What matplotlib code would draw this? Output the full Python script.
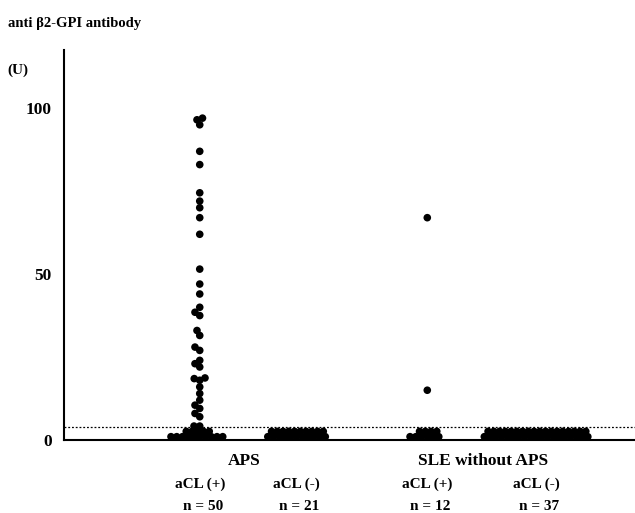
"""Anti beta2-GPI antibody levels: APS vs SLE without APS, split by aCL status."""
import numpy as np
import matplotlib

matplotlib.use("Agg")
import matplotlib.pyplot as plt

# values (U)
aps_pos = [97, 96.5, 95, 87, 83, 74.5, 72, 70, 67, 62, 51.5, 47, 44, 40,
           38.5, 37.5, 33, 31.5, 28, 27, 24, 23, 22, 18.7, 18.5, 18, 16, 14,
           12, 10.5, 9.5, 8, 7,
           4.2, 4.2,
           2.6, 2.6, 2.6, 2.6, 2.6,
           1.0, 1.0, 1.0, 1.0, 1.0, 1.0, 1.0, 1.0, 1.0, 1.0]
aps_neg = [2.6] * 10 + [1.0] * 11
sle_pos = [67, 15] + [2.6] * 4 + [1.0] * 6
sle_neg = [2.6] * 18 + [1.0] * 19

groups = [aps_pos, aps_neg, sle_pos, sle_neg]
centers = [2.0, 2.97, 4.28, 5.37]
acl_labels = ["aCL (+)", "aCL (-)", "aCL (+)", "aCL (-)"]
n_labels = ["n = 50", "n = 21", "n = 12", "n = 37"]
cutoff = 3.9

FONT = "Liberation Serif"


def swarm(ax, x0, vals, diam_px):
    """Simple beeswarm: returns x data positions for values around x0."""
    tr = ax.transData
    pts = tr.transform(np.column_stack([np.full(len(vals), x0), vals]))
    order = np.argsort(pts[:, 1], kind="stable")
    placed = []
    xs = np.zeros(len(vals))
    for i in order:
        y = pts[i, 1]
        best = None
        for k in range(0, 600):
            for sgn in ((1,) if k == 0 else (-1, 1)):
                dx = sgn * k * 0.25
                ok = all((px - (pts[i, 0] + dx)) ** 2 + (py - y) ** 2
                         >= diam_px ** 2 for px, py in placed)
                if ok:
                    best = dx
                    break
            if best is not None:
                break
        placed.append((pts[i, 0] + best, y))
        xs[i] = tr.inverted().transform((pts[i, 0] + best, y))[0]
    return xs


fig = plt.figure(figsize=(6.35, 5.13), dpi=100)
ax = fig.add_axes([0.1008, 0.1423, 0.899, 0.760])
ax.set_xlim(0.64, 6.36)
ax.set_ylim(0, 117.5)

for x0, vals in zip(centers, groups):
    xs = swarm(ax, x0, vals, 5.6)
    ax.scatter(xs, vals, s=30, color="black", edgecolors="none",
               zorder=3, clip_on=False)

ax.axhline(cutoff, color="black", lw=0.9, ls=(0, (1.5, 1.5)), zorder=2)

for side in ("top", "right"):
    ax.spines[side].set_visible(False)
ax.spines["left"].set_linewidth(1.5)
ax.spines["bottom"].set_linewidth(1.5)
ax.set_xticks([])
ax.set_yticks([0, 50, 100])
ax.tick_params(axis="y", length=0, pad=9)
for lab in ax.get_yticklabels():
    lab.set_fontfamily(FONT)
    lab.set_fontweight("bold")
    lab.set_fontsize(12.5)

fig.text(0.012, 0.948, "anti β2-GPI antibody", family=FONT,
         weight="bold", fontsize=10.5)
fig.text(0.012, 0.856, "(U)", family=FONT, weight="bold", fontsize=11)

tr = ax.get_xaxis_transform()
ax.text(2.45, -0.055, "APS", transform=tr,
        ha="center", va="center", family=FONT, weight="bold", fontsize=12.5)
ax.text(4.84, -0.055, "SLE without APS",
        transform=tr, ha="center", va="center", family=FONT,
        weight="bold", fontsize=12.5)
for x0, a, n in zip(centers, acl_labels, n_labels):
    ax.text(x0, -0.114, a, transform=tr, ha="center", va="center",
            family=FONT, weight="bold", fontsize=11)
    ax.text(x0 + 0.03, -0.17, n, transform=tr, ha="center", va="center",
            family=FONT, weight="bold", fontsize=11)

fig.savefig("out.png", dpi=100)
